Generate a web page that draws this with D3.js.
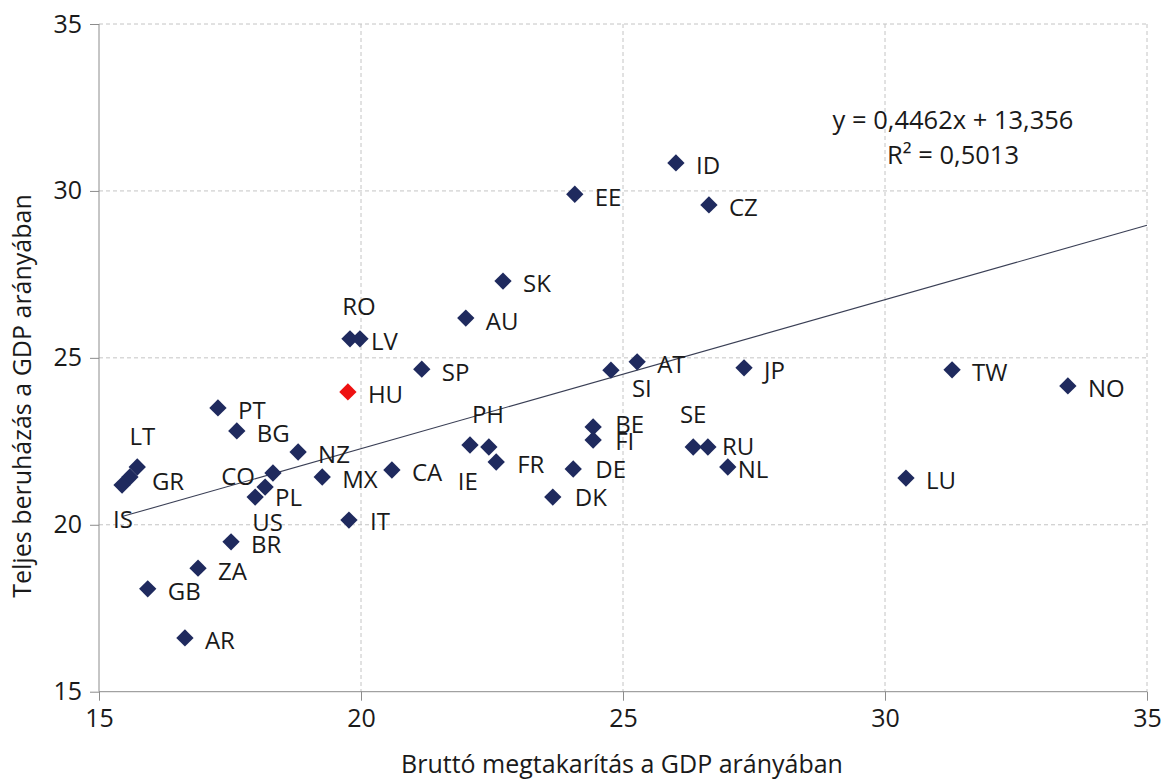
<!DOCTYPE html>
<html>
<head>
<meta charset="utf-8">
<script src="https://cdn.jsdelivr.net/npm/d3@7"></script>
<style>
  body { margin: 0; background: #fff; }
  svg { display: block; font-family: "Open Sans", sans-serif; }
</style>
</head>
<body>
<svg id="chart" width="1164" height="780"></svg>
<script>
// country codes, gross saving (% GDP), total investment (% GDP)
const countries = ["ID", "EE", "CZ", "SK", "AU", "RO", "LV", "SP", "HU", "SI", "AT", "JP", "TW", "NO",
  "PT", "BG", "NZ", "LT", "GR", "IS", "CO", "PL", "US", "MX", "CA", "IT", "BR", "ZA", "GB", "AR",
  "PH", "IE", "FR", "BE", "FI", "DE", "DK", "SE", "RU", "NL", "LU"];
const saving = [26.01, 24.08, 26.64, 22.71, 22.00, 19.79, 19.98, 21.16, 19.75, 24.77, 25.27, 27.31, 31.28, 33.49,
  17.27, 17.63, 18.80, 15.73, 15.59, 15.44, 18.32, 18.17, 17.98, 19.26, 20.59, 19.77, 17.52, 16.89, 15.93, 16.64,
  22.08, 22.44, 22.58, 24.43, 24.43, 24.05, 23.66, 26.34, 26.62, 27.00, 30.40];
const investment = [30.84, 29.90, 29.58, 27.30, 26.19, 25.57, 25.57, 24.66, 23.98, 24.63, 24.88, 24.70, 24.64, 24.16,
  23.50, 22.81, 22.18, 21.73, 21.43, 21.19, 21.55, 21.13, 20.83, 21.43, 21.64, 20.14, 19.49, 18.70, 18.08, 16.61,
  22.39, 22.33, 21.88, 22.93, 22.54, 21.67, 20.83, 22.33, 22.33, 21.73, 21.40];
const highlighted = ["HU"];

const trendSlope = 0.4462;
const trendIntercept = 13.356;
const trendR2 = 0.5013;

const xTicks = [15, 20, 25, 30, 35];
const yTicks = [15, 20, 25, 30, 35];
const xTitle = "Bruttó megtakarítás a GDP arányában";
const yTitle = "Teljes beruházás a GDP arányában";

const data = countries.map((c, i) => ({ code: c, x: saving[i], y: investment[i] }));

// hand placed labels (Excel style), default is to the right
const labelPos = {
  RO: ["middle", 9, -32], LV: ["start", 11, 3], LT: ["middle", 5, -30], GR: ["start", 22, 5],
  IS: ["start", -9, 35], CO: ["end", -18, 4], PL: ["start", 10, 11], US: ["start", -3, 26],
  IT: ["start", 21, 1], SI: ["start", 21, 18], AT: ["start", 20, 3], PH: ["middle", 18, -30],
  IE: ["start", -31, 35], FR: ["start", 21, 3], BE: ["start", 22, -2], FI: ["start", 22, 2],
  DE: ["start", 22, 1], DK: ["start", 22, 1], SE: ["middle", 0, -32], RU: ["start", 14, 0],
  NL: ["start", 10, 3]
};

const svg = d3.select("#chart");
const plot = { left: 99, right: 1147, top: 24, bottom: 691.7 };

const x = d3.scaleLinear().domain([15, 35]).range([plot.left, plot.right]);
const y = d3.scaleLinear().domain([15, 35]).range([plot.bottom, plot.top]);

// grid
const grid = svg.append("g").attr("stroke", "#c4c4c4").attr("stroke-dasharray", "4,3");
grid.selectAll(".vg").data(xTicks.slice(1)).join("line")
  .attr("x1", d => x(d)).attr("x2", d => x(d)).attr("y1", plot.top).attr("y2", plot.bottom);
grid.selectAll(".hg").data(yTicks.slice(1)).join("line")
  .attr("x1", plot.left).attr("x2", plot.right).attr("y1", d => y(d)).attr("y2", d => y(d));

// axes
const xAxis = svg.append("g")
  .attr("transform", `translate(0,${plot.bottom})`)
  .call(d3.axisBottom(x).tickValues(xTicks).tickSize(9).tickPadding(9));
const yAxis = svg.append("g")
  .attr("transform", `translate(${plot.left},0)`)
  .call(d3.axisLeft(y).tickValues(yTicks).tickSize(9).tickPadding(8));
[xAxis, yAxis].forEach(a => {
  a.select(".domain").attr("stroke", "#8c8c8c");
  a.selectAll(".tick line").attr("stroke", "#8c8c8c");
  a.selectAll(".tick text").attr("font-size", 25).attr("fill", "#1a1a1a").attr("font-family", "Open Sans");
});
xAxis.select(".domain").attr("d", `M${plot.left},0H${plot.right}`);
yAxis.select(".domain").attr("d", `M0,${plot.top}V${plot.bottom}`);

// trend line
const x0 = d3.min(saving);
svg.append("line")
  .attr("x1", x(x0)).attr("y1", y(trendSlope * x0 + trendIntercept))
  .attr("x2", x(35)).attr("y2", y(trendSlope * 35 + trendIntercept))
  .attr("stroke", "#3a3f55").attr("stroke-width", 1.1);

// points
const sym = d3.symbol(d3.symbolSquare, 150);
svg.append("g").selectAll("path").data(data).join("path")
  .attr("d", sym)
  .attr("transform", d => `translate(${x(d.x)},${y(d.y)}) rotate(45)`)
  .attr("fill", d => highlighted.includes(d.code) ? "#ee1111" : "#1f2a5e");

// labels
svg.append("g").attr("font-size", 24).attr("fill", "#1a1a1a")
  .selectAll("text").data(data).join("text")
  .each(function (d) {
    const p = labelPos[d.code] || ["start", 20, 3];
    d3.select(this)
      .attr("text-anchor", p[0])
      .attr("x", x(d.x) + p[1])
      .attr("y", y(d.y) + p[2])
      .attr("dy", "0.35em")
      .text(d.code);
  });

// equation
const eq = svg.append("g").attr("font-size", 25.5).attr("fill", "#1a1a1a").attr("text-anchor", "middle");
eq.append("text").attr("x", 953).attr("y", 120).attr("dy", "0.35em")
  .text(`y = ${d3.format(".4f")(trendSlope).replace(".", ",")}x + ${d3.format(".3f")(trendIntercept).replace(".", ",")}`);
eq.append("text").attr("x", 953).attr("y", 155).attr("dy", "0.35em")
  .text(`R² = ${d3.format(".4f")(trendR2).replace(".", ",")}`);

// axis titles
svg.append("text").attr("x", 622).attr("y", 764).attr("dy", "0.35em")
  .attr("text-anchor", "middle").attr("font-size", 25).attr("fill", "#1a1a1a").text(xTitle);
svg.append("text").attr("transform", "translate(22,396) rotate(-90)").attr("dy", "0.35em")
  .attr("text-anchor", "middle").attr("font-size", 25).attr("fill", "#1a1a1a").text(yTitle);
</script>
</body>
</html>
